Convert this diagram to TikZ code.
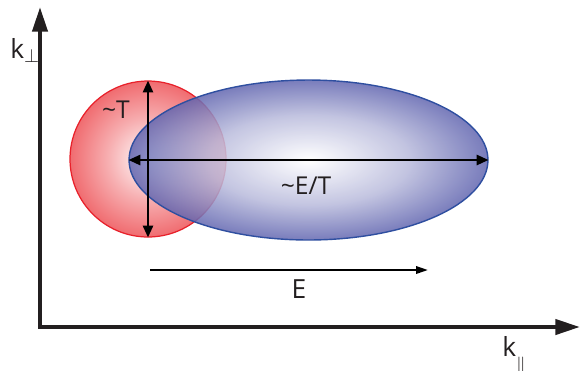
\documentclass[tikz,border=0pt]{standalone}
\usepackage{fontspec}
\setmainfont{Open Sans}
\usepackage{tikz}
\usetikzlibrary{arrows.meta,positioning,shapes.geometric}
\definecolor{phInk}{HTML}{231F20}
\definecolor{phRed}{HTML}{E8212B}
\definecolor{phRedFill}{HTML}{F06C70}
\definecolor{phBlue}{HTML}{2F4FA0}
\definecolor{phBlueFill}{HTML}{6266B0}
\pgfdeclareradialshading{phredshade}{\pgfpoint{0bp}{0bp}}{color(0bp)=(white); color(13bp)=(phRedFill!55!white); color(25bp)=(phRedFill); color(50bp)=(phRedFill)}
\pgfdeclareradialshading{phblueshade}{\pgfpoint{0bp}{0bp}}{color(0bp)=(white); color(14bp)=(phBlueFill!45!white); color(25bp)=(phBlueFill); color(50bp)=(phBlueFill)}
\tikzset{
  ph diagram/.style={text=phInk, line join=miter},
  ph axis/.style={{Triangle[length=14pt,width=8.5pt]}-{Triangle[length=14pt,width=8.5pt]},
    draw=phInk, line width=2.4pt},
  ph span/.style={{Triangle[length=6.8pt,width=5.6pt]}-{Triangle[length=6.8pt,width=5.6pt]},
    draw=black, line width=1.6pt},
  ph arrow/.style={-{Triangle[length=6.8pt,width=4.2pt]}, draw=black, line width=1.2pt},
  ph thermal/.style={circle, draw=phRed, line width=0.7pt, inner sep=0pt,
    shade, shading=phredshade, minimum size=3.12cm},
  ph hard/.style={ellipse, draw=phBlue, line width=0.8pt, inner sep=0pt,
    shade, shading=phblueshade, fill opacity=0.85,
    minimum width=7.18cm, minimum height=3.2cm},
  ph label/.style={font=\fontsize{14}{17}\selectfont, inner sep=0pt},
  ph big label/.style={font=\fontsize{15}{18}\selectfont, inner sep=0pt}
}
\begin{document}
\begin{tikzpicture}[ph diagram,x=0.02cm,y=-0.02cm]
\useasboundingbox (0,0) rectangle (581,370);
% axes
\coordinate (origin) at (40,327);
\coordinate (ytip) at (40,7);
\coordinate (xtip) at (580,327);
\draw[ph axis] (ytip) -- (origin) -- (xtip);
\node[ph big label,anchor=base west] (kperp) at (10,58) {k$_{\perp}$};
\node[ph big label,anchor=base west] (kpar) at (502,356) {k\raisebox{-1.1ex}{$\scriptstyle\parallel$}};
% thermal and hard regions
\node[ph thermal] (thermal) at (148,159) {};
\node[ph hard] (hard) at (308.5,160) {};
\draw[ph span] (thermal.north) -- (thermal.south);
\draw[ph span] (hard.west) -- (hard.east);
\node[ph label] (tlabel) at (116,110) {\textasciitilde T};
\node[ph label] (etlabel) at (306,186) {\textasciitilde E/T};
% energy
\coordinate (estart) at (150,270);
\coordinate (eend) at (428,270);
\draw[ph arrow] (estart) -- (eend);
\node[ph big label] (elabel) at (299,289) {E};
\end{tikzpicture}
\end{document}
